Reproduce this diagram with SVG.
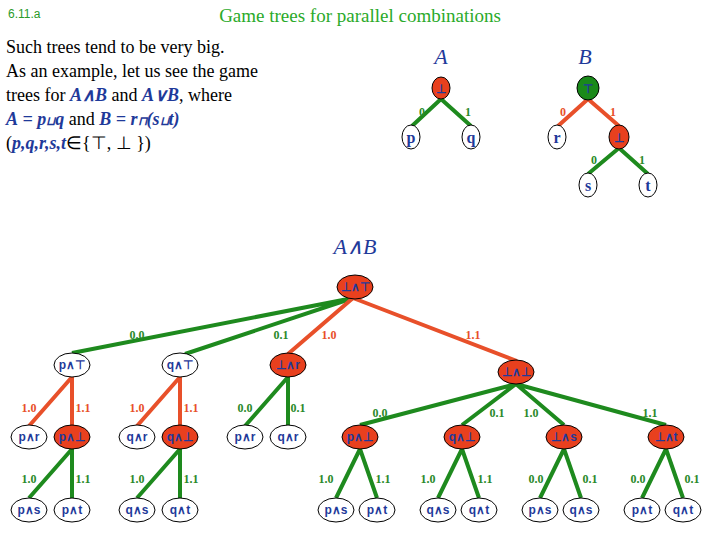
<svg xmlns="http://www.w3.org/2000/svg" width="720" height="540" viewBox="0 0 720 540">
<style>
.g{stroke:#1e8a1e;stroke-width:4;fill:none}
.r{stroke:#e8502a;stroke-width:4;fill:none}
.w{fill:#fff;stroke:#000;stroke-width:1}
.o{fill:#e8401e;stroke:#000;stroke-width:1}
.gn{fill:#1a8a1a;stroke:#000;stroke-width:1}
.t{font-family:"Liberation Sans",sans-serif;font-weight:bold;font-size:12px;fill:#1f3a9a;text-anchor:middle}
.lt{font-family:"Liberation Serif",serif;font-weight:bold;font-size:16px;fill:#1f3a9a;text-anchor:middle}
.lg{font-family:"Liberation Serif",serif;font-weight:bold;font-size:12px;fill:#2a8a2a;text-anchor:middle}
.lr{font-family:"Liberation Serif",serif;font-weight:bold;font-size:12px;fill:#e8502a;text-anchor:middle}
.body{font-family:"Liberation Serif",serif;font-size:18px;fill:#000}
.bi{fill:#1f3a9a;font-weight:bold;font-style:italic}
</style>
<text x="8" y="18" font-family="Liberation Sans,sans-serif" font-size="12" fill="#2a9a2a">6.11.a</text>
<text x="360" y="22" text-anchor="middle" font-family="Liberation Serif,serif" font-size="19" fill="#2aaa2a">Game trees for parallel combinations</text>
<text class="body" x="6" y="53">Such trees tend to be very big.</text>
<text class="body" x="6" y="77">As an example, let us see the game</text>
<text class="body" x="6" y="101">trees for <tspan class="bi">A∧B</tspan> and <tspan class="bi">A∨B</tspan>, where</text>
<text class="body" x="6" y="125"><tspan class="bi">A</tspan> <tspan class="bi">= p</tspan><tspan class="bi" font-size="12">⊔</tspan><tspan class="bi">q</tspan> and <tspan class="bi">B</tspan> <tspan class="bi">= r</tspan><tspan class="bi" font-size="12">⊓</tspan><tspan class="bi">(s</tspan><tspan class="bi" font-size="12">⊔</tspan><tspan class="bi">t)</tspan></text>
<text class="body" x="6" y="149">(<tspan class="bi">p,q,r,s,t</tspan>∈{⊤, ⊥ })</text>
<text x="441" y="64" font-family="Liberation Serif,serif" font-style="italic" font-size="22" fill="#1f3a9a" text-anchor="middle">A</text>
<text x="585" y="64" font-family="Liberation Serif,serif" font-style="italic" font-size="22" fill="#1f3a9a" text-anchor="middle">B</text>
<text x="355" y="254" font-family="Liberation Serif,serif" font-style="italic" font-size="22" fill="#1f3a9a" text-anchor="middle">A∧B</text>
<g id="connectors">
<path class="g" d="M441,99L412,126M441,99L471,126M588,99"/>
<path class="r" d="M588,99L558,126M588,99L619,126"/>
<path class="g" d="M619,148L588,174M619,148L648,174"/>
<path class="g" d="M353,298L72,353M353,298L185,354"/>
<path class="r" d="M353,298L288,354M353,298L517,361"/>
<path class="r" d="M72,377L29,426M72,377L72,426M180,377L137,426M180,377L180,426"/>
<path class="g" d="M288,377L245,426M288,377L288,426"/>
<path class="g" d="M72,449L29,498M72,449L72,498M180,449L137,498M180,449L180,498"/>
<path class="g" d="M516,384L360,425M516,384L462,425M516,384L564,425M516,384L666,425"/>
<path class="g" d="M360,449L336,498M360,449L377,498M462,449L438,498M462,449L479,498M564,449L540,498M564,449L581,498M666,449L642,498M666,449L683,498"/>
</g>
<g id="edge-labels">
<text class="lg" x="422" y="116">0</text><text class="lg" x="468" y="116">1</text>
<text class="lr" x="563" y="116">0</text><text class="lr" x="613" y="116">1</text>
<text class="lg" x="594" y="164">0</text><text class="lg" x="642" y="164">1</text>
<text class="lg" x="137" y="339">0.0</text><text class="lg" x="281" y="339">0.1</text>
<text class="lr" x="329" y="339">1.0</text><text class="lr" x="473" y="339">1.1</text>
<text class="lr" x="29" y="412">1.0</text><text class="lr" x="83" y="412">1.1</text>
<text class="lr" x="137" y="412">1.0</text><text class="lr" x="191" y="412">1.1</text>
<text class="lg" x="245" y="412">0.0</text><text class="lg" x="298" y="412">0.1</text>
<text class="lg" x="380" y="417">0.0</text><text class="lg" x="497" y="417">0.1</text>
<text class="lg" x="531" y="417">1.0</text><text class="lg" x="650" y="417">1.1</text>
<text class="lg" x="29" y="483">1.0</text><text class="lg" x="83" y="483">1.1</text>
<text class="lg" x="137" y="483">1.0</text><text class="lg" x="191" y="483">1.1</text>
<text class="lg" x="326" y="483">1.0</text><text class="lg" x="383" y="483">1.1</text>
<text class="lg" x="428" y="483">1.0</text><text class="lg" x="485" y="483">1.1</text>
<text class="lg" x="536" y="483">0.0</text><text class="lg" x="590" y="483">0.1</text>
<text class="lg" x="638" y="483">0.0</text><text class="lg" x="692" y="483">0.1</text>
</g>
<g id="A-root"><ellipse class="o" cx="441" cy="88" rx="9" ry="11"/><text class="t" x="441" y="93">⊥</text></g>
<g id="A-p"><ellipse class="w" cx="411" cy="137" rx="9" ry="12"/><text class="lt" x="411" y="143">p</text></g>
<g id="A-q"><ellipse class="w" cx="471" cy="137" rx="9" ry="12"/><text class="lt" x="471" y="143">q</text></g>
<g id="B-root"><ellipse class="gn" cx="588" cy="88" rx="11" ry="12"/><text class="t" x="588" y="93">⊤</text></g>
<g id="B-r"><ellipse class="w" cx="557" cy="137" rx="9" ry="12"/><text class="lt" x="557" y="143">r</text></g>
<g id="B-bot"><ellipse class="o" cx="619" cy="137" rx="10" ry="12"/><text class="t" x="619" y="142">⊥</text></g>
<g id="B-s"><ellipse class="w" cx="588" cy="185" rx="9" ry="12"/><text class="lt" x="588" y="191">s</text></g>
<g id="B-t"><ellipse class="w" cx="648" cy="185" rx="9" ry="12"/><text class="lt" x="648" y="191">t</text></g>
<g id="n0"><ellipse class="o" cx="355" cy="287" rx="18" ry="12"/><text class="t" x="355" y="291">⊥∧⊤</text></g>
<g id="n1"><ellipse class="w" cx="72" cy="365" rx="18" ry="12"/><text class="t" x="72" y="369">p∧⊤</text></g>
<g id="n2"><ellipse class="w" cx="180" cy="365" rx="18" ry="12"/><text class="t" x="180" y="369">q∧⊤</text></g>
<g id="n3"><ellipse class="o" cx="288" cy="365" rx="18" ry="12"/><text class="t" x="288" y="369">⊥∧r</text></g>
<g id="n4"><ellipse class="o" cx="516" cy="372" rx="18" ry="12"/><text class="t" x="516" y="376">⊥∧⊥</text></g>
<g id="n5"><ellipse class="w" cx="29" cy="437" rx="18" ry="12"/><text class="t" x="29" y="441">p∧r</text></g>
<g id="n6"><ellipse class="o" cx="72" cy="437" rx="18" ry="12"/><text class="t" x="72" y="441">p∧⊥</text></g>
<g id="n7"><ellipse class="w" cx="137" cy="437" rx="18" ry="12"/><text class="t" x="137" y="441">q∧r</text></g>
<g id="n8"><ellipse class="o" cx="180" cy="437" rx="18" ry="12"/><text class="t" x="180" y="441">q∧⊥</text></g>
<g id="n9"><ellipse class="w" cx="245" cy="437" rx="18" ry="12"/><text class="t" x="245" y="441">p∧r</text></g>
<g id="n10"><ellipse class="w" cx="288" cy="437" rx="18" ry="12"/><text class="t" x="288" y="441">q∧r</text></g>
<g id="n11"><ellipse class="o" cx="360" cy="437" rx="18" ry="12"/><text class="t" x="360" y="441">p∧⊥</text></g>
<g id="n12"><ellipse class="o" cx="462" cy="437" rx="18" ry="12"/><text class="t" x="462" y="441">q∧⊥</text></g>
<g id="n13"><ellipse class="o" cx="564" cy="437" rx="18" ry="12"/><text class="t" x="564" y="441">⊥∧s</text></g>
<g id="n14"><ellipse class="o" cx="666" cy="437" rx="18" ry="12"/><text class="t" x="666" y="441">⊥∧t</text></g>
<g id="l1"><ellipse class="w" cx="29" cy="510" rx="18" ry="12"/><text class="t" x="29" y="514">p∧s</text></g>
<g id="l2"><ellipse class="w" cx="72" cy="510" rx="18" ry="12"/><text class="t" x="72" y="514">p∧t</text></g>
<g id="l3"><ellipse class="w" cx="137" cy="510" rx="18" ry="12"/><text class="t" x="137" y="514">q∧s</text></g>
<g id="l4"><ellipse class="w" cx="180" cy="510" rx="18" ry="12"/><text class="t" x="180" y="514">q∧t</text></g>
<g id="l5"><ellipse class="w" cx="336" cy="510" rx="18" ry="12"/><text class="t" x="336" y="514">p∧s</text></g>
<g id="l6"><ellipse class="w" cx="377" cy="510" rx="18" ry="12"/><text class="t" x="377" y="514">p∧t</text></g>
<g id="l7"><ellipse class="w" cx="438" cy="510" rx="18" ry="12"/><text class="t" x="438" y="514">q∧s</text></g>
<g id="l8"><ellipse class="w" cx="479" cy="510" rx="18" ry="12"/><text class="t" x="479" y="514">q∧t</text></g>
<g id="l9"><ellipse class="w" cx="540" cy="510" rx="18" ry="12"/><text class="t" x="540" y="514">p∧s</text></g>
<g id="l10"><ellipse class="w" cx="581" cy="510" rx="18" ry="12"/><text class="t" x="581" y="514">q∧s</text></g>
<g id="l11"><ellipse class="w" cx="642" cy="510" rx="18" ry="12"/><text class="t" x="642" y="514">p∧t</text></g>
<g id="l12"><ellipse class="w" cx="683" cy="510" rx="18" ry="12"/><text class="t" x="683" y="514">q∧t</text></g>
</svg>
